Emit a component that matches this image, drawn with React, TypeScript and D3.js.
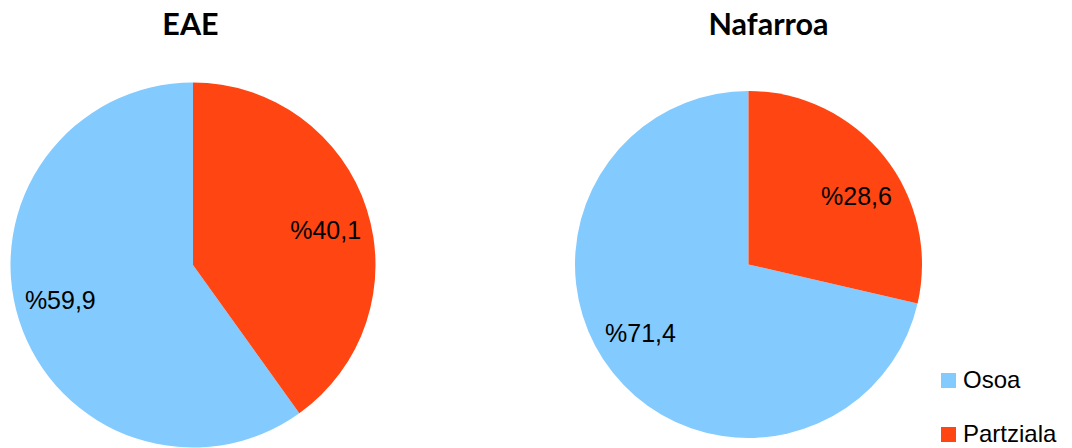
import React from "react";
import * as d3 from "d3";

const categories = ["Osoa", "Partziala"];
const colors = ["#83caff", "#ff4511"];
const titles = ["EAE", "Nafarroa"];
const eaeValues = [59.9, 40.1];
const nafarroaValues = [71.4, 28.6];
const labelText = ["%59,9", "%40,1"];
const labelText2 = ["%71,4", "%28,6"];

const W = 1072;
const H = 448;

const pies = [
  { title: titles[0], values: eaeValues, labels: labelText, cx: 193, cy: 265, r: 182.5, tx: 190.5, lf: 0.752, shift: 3 },
  { title: titles[1], values: nafarroaValues, labels: labelText2, cx: 748.5, cy: 264.5, r: 173.5, tx: 768.5, lf: 0.736, shift: 6.3 },
];

export default function App() {
  const pieGen = d3
    .pie<number>()
    .sort(null)
    .value((d) => d)
    .startAngle(0)
    .endAngle(-2 * Math.PI);

  return (
    <svg
      width={W}
      height={H}
      style={{ position: "absolute", left: 0, top: 0, background: "#fff" }}
    >
      {pies.map((p, pi) => {
        const arcs = pieGen(p.values);
        const arc = d3.arc<d3.PieArcDatum<number>>().innerRadius(0).outerRadius(p.r);
        const lr = p.r * p.lf;
        return (
          <g key={pi}>
            <text
              x={p.tx}
              y={35}
              textAnchor="middle"
              fontFamily="Lato"
              fontWeight="bold"
              fontSize={30.5}
              fill="#000"
            >
              {p.title}
            </text>
            <g transform={`translate(${p.cx},${p.cy})`}>
              {arcs.map((a, i) => (
                <path key={i} d={arc(a) || ""} fill={colors[i]} />
              ))}
              {arcs.map((a, i) => {
                const mid = (a.startAngle + a.endAngle) / 2 + (p.shift * Math.PI) / 180;
                const lx = lr * Math.sin(mid);
                const ly = -lr * Math.cos(mid);
                return (
                  <text
                    key={"l" + i}
                    x={lx}
                    y={ly + 9}
                    textAnchor="middle"
                    fontFamily="Liberation Sans"
                    fontSize={25}
                    fill="#000"
                  >
                    {p.labels[i]}
                  </text>
                );
              })}
            </g>
          </g>
        );
      })}
      {categories.map((c, i) => (
        <g key={c} transform={`translate(941,${373 + i * 54})`}>
          <rect width={15} height={15} fill={colors[i]} />
          <text x={22} y={15} fontFamily="Liberation Sans" fontSize={24} fill="#000">
            {c}
          </text>
        </g>
      ))}
    </svg>
  );
}
